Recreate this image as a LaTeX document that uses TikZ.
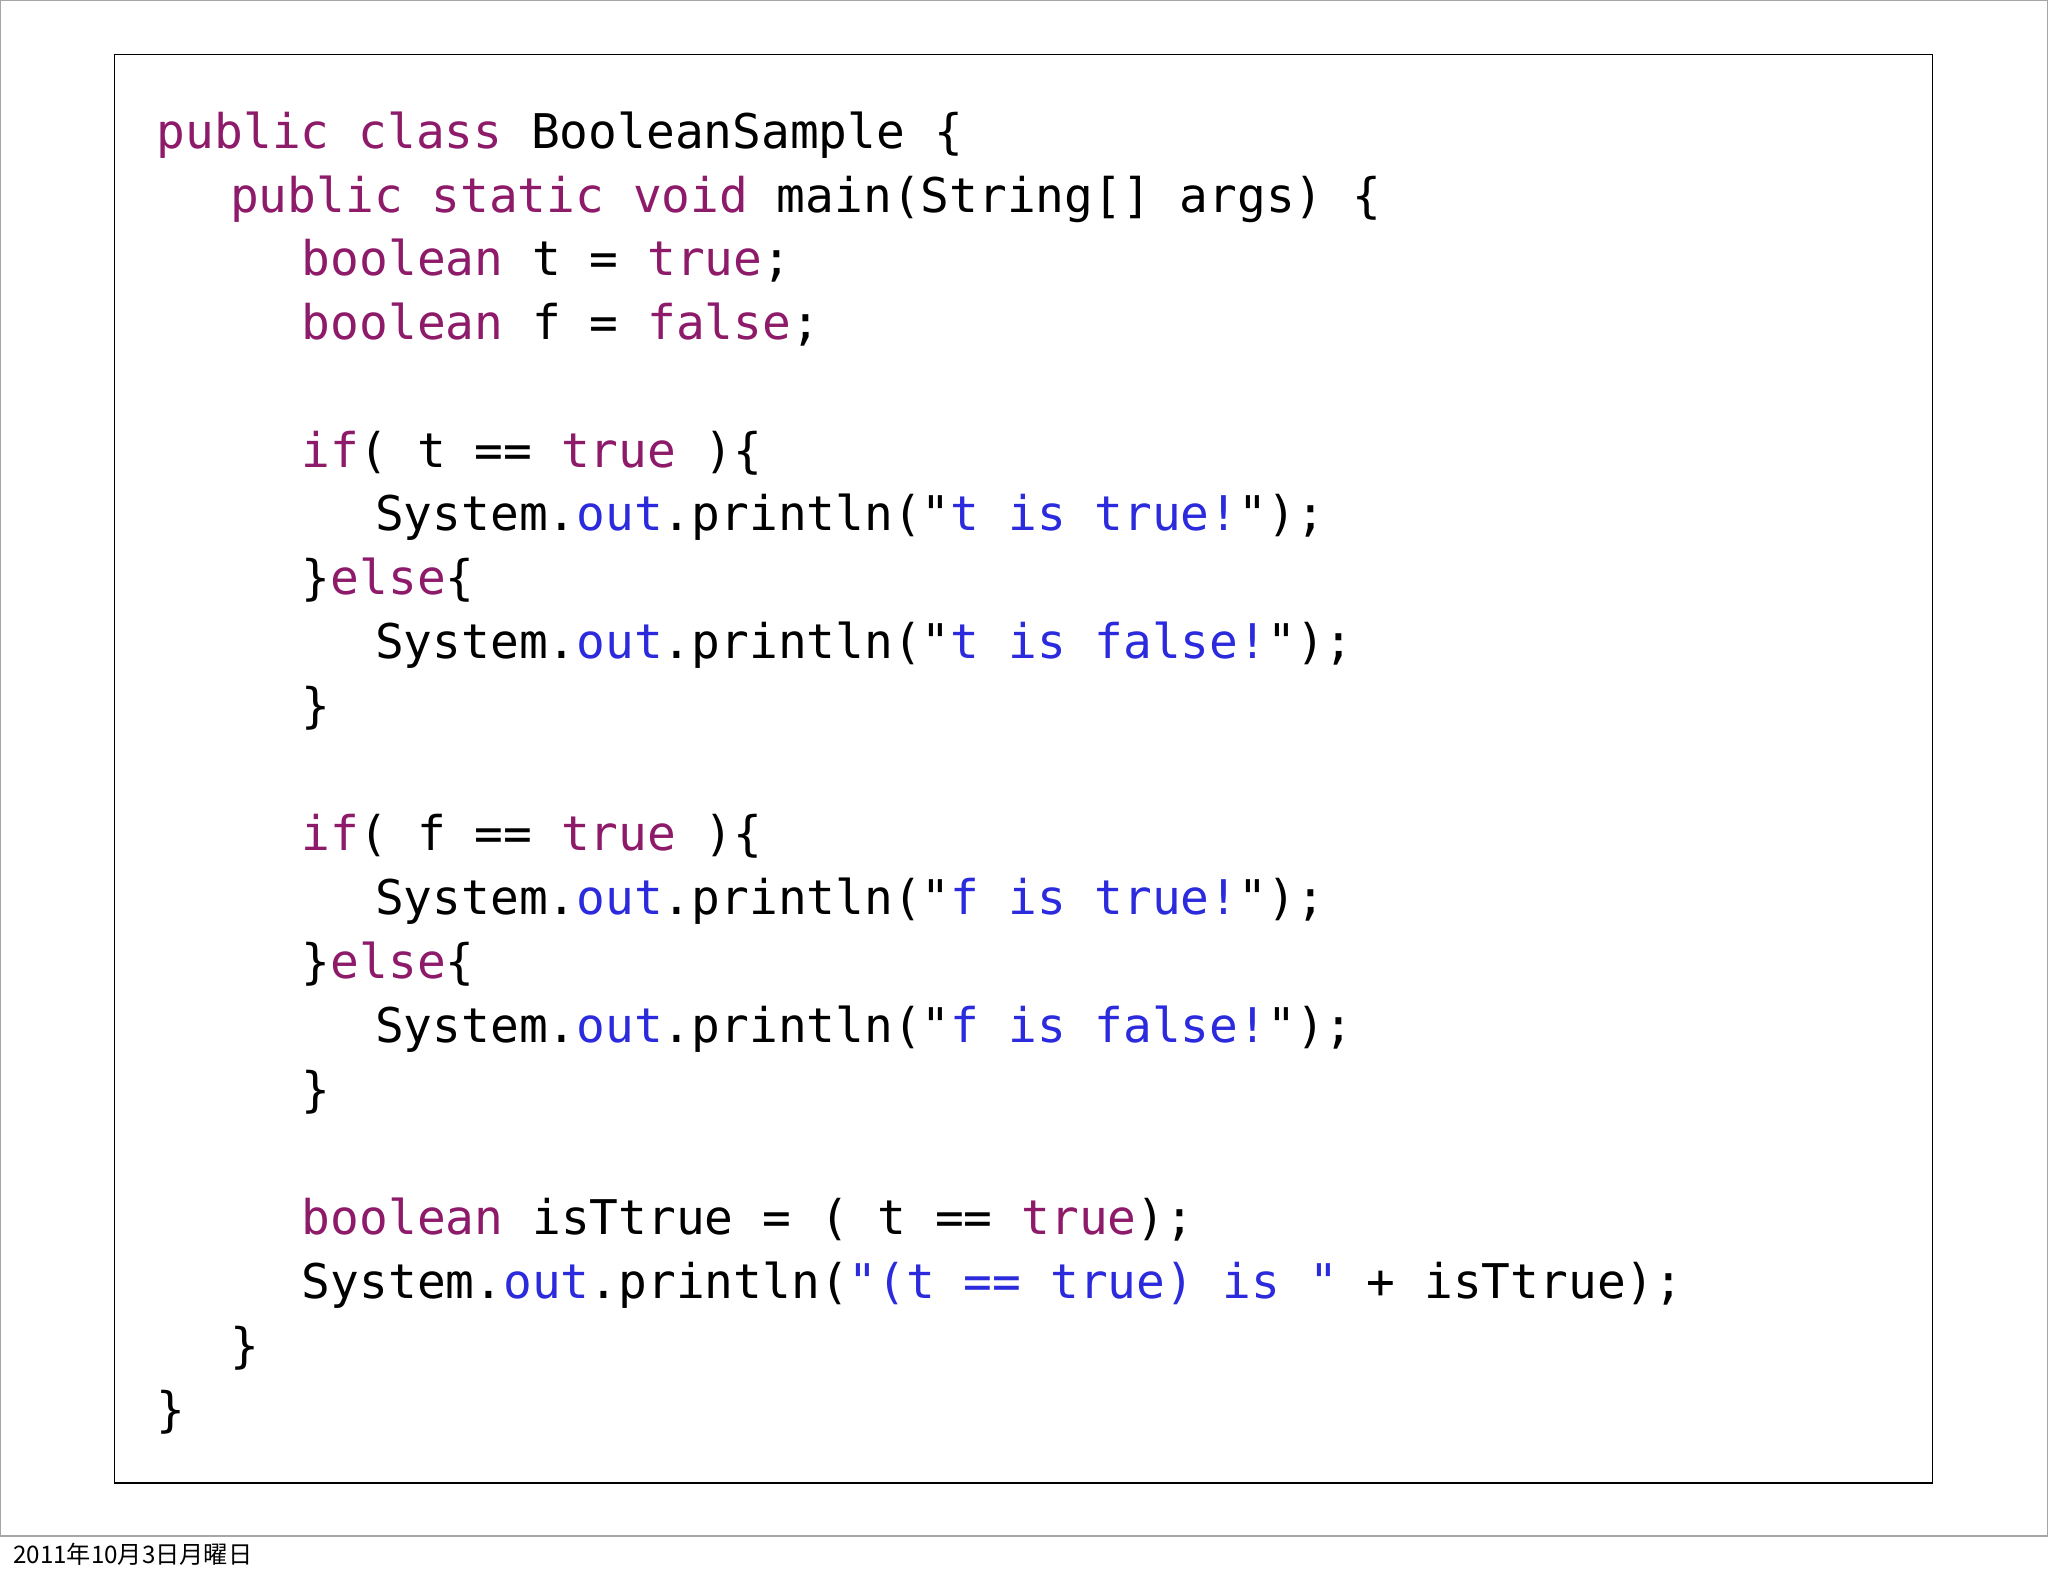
\documentclass[tikz,border=0pt]{standalone}
\usepackage{fontspec}
\setmonofont{DejaVu Sans Mono}
\newfontfamily\cjk{Noto Sans CJK JP}
\definecolor{kw}{HTML}{8E1A6A}
\definecolor{st}{HTML}{2B2BDD}
\newcommand{\Kw}[1]{\textcolor{kw}{#1}}
\newcommand{\Sv}[1]{\textcolor{st}{#1}}
\begin{document}
\begin{tikzpicture}[x=1pt,y=-1pt,
  code/.style={anchor=base west,inner sep=0pt,font=\ttfamily\fontsize{36.6}{40}\selectfont}]
\useasboundingbox (0,0) rectangle (1568,1207);
\draw[gray!70,line width=0.8pt] (0.5,0.5) rectangle (1567.5,1176);
\node[draw=black,line width=1.2pt,minimum width=1392pt,minimum height=1094pt,anchor=north west,inner sep=0pt] (box) at (87,41) {};
\node[code] (l1) at (120,114) {\Kw{public class} BooleanSample \{};
\node[code] (l2) at (176,163) {\Kw{public static void} main(String[] args) \{};
\node[code] (l3) at (231,211) {\Kw{boolean} t = \Kw{true};};
\node[code] (l4) at (231,260) {\Kw{boolean} f = \Kw{false};};
\node[code] (l5) at (231,358) {\Kw{if}( t == \Kw{true} )\{};
\node[code] (l6) at (287,406) {System.\Sv{out}.println("\Sv{t is true!}");};
\node[code] (l7) at (231,455) {\}\Kw{else}\{};
\node[code] (l8) at (287,504) {System.\Sv{out}.println("\Sv{t is false!}");};
\node[code] (l9) at (231,553) {\}};
\node[code] (l10) at (231,651) {\Kw{if}( f == \Kw{true} )\{};
\node[code] (l11) at (287,700) {System.\Sv{out}.println("\Sv{f is true!}");};
\node[code] (l12) at (231,749) {\}\Kw{else}\{};
\node[code] (l13) at (287,798) {System.\Sv{out}.println("\Sv{f is false!}");};
\node[code] (l14) at (231,847) {\}};
\node[code] (l15) at (231,945) {\Kw{boolean} isTtrue = ( t == \Kw{true});};
\node[code] (l16) at (231,994) {System.\Sv{out}.println(\Sv{"(t == true) is "} + isTtrue);};
\node[code] (l17) at (176,1043) {\}};
\node[code] (l18) at (120,1092) {\}};
\node[anchor=base west,inner sep=0pt,font=\cjk\fontsize{18.5}{20}\selectfont] (foot) at (10,1197) {2011年10月3日月曜日};
\end{tikzpicture}
\end{document}
